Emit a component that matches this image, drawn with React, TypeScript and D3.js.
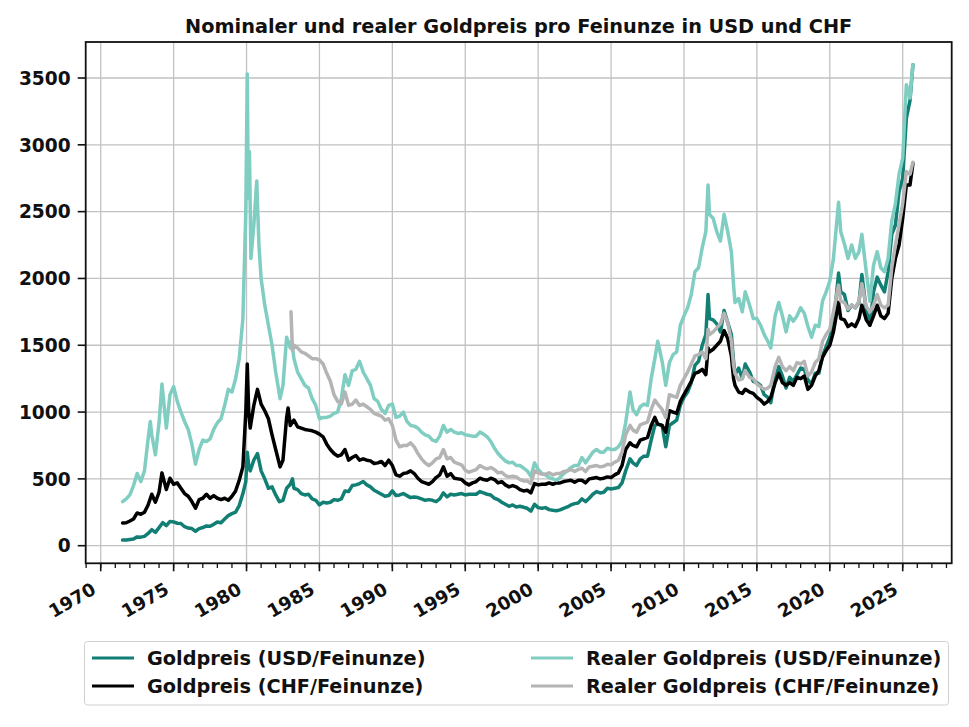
import React, { useEffect } from 'react';
import * as d3 from 'd3';

// [Jahr, Preis] – Quartalswerte, an Spitzen verdichtet
const goldUsd: [number, number][] = [
  [1971.5, 42], [1971.75, 43], [1972.0, 47], [1972.25, 50], [1972.5, 66], [1972.75, 64],
  [1973.0, 70], [1973.25, 92], [1973.5, 120], [1973.75, 100], [1974.0, 135], [1974.25, 172],
  [1974.5, 150], [1974.75, 182], [1975.0, 178], [1975.25, 168], [1975.5, 166], [1975.75, 142],
  [1976.0, 132], [1976.25, 128], [1976.5, 108], [1976.75, 128], [1977.0, 136], [1977.25, 148],
  [1977.5, 146], [1977.75, 160], [1978.0, 178], [1978.25, 172], [1978.5, 200], [1978.75, 225],
  [1979.0, 240], [1979.25, 252], [1979.5, 300], [1979.75, 390], [1979.95, 480], [1980.05, 700],
  [1980.15, 600], [1980.25, 560], [1980.5, 640], [1980.75, 690], [1981.0, 560], [1981.25, 500],
  [1981.5, 430], [1981.75, 440], [1982.0, 380], [1982.25, 330], [1982.5, 340], [1982.75, 430],
  [1983.0, 460], [1983.15, 500], [1983.25, 430], [1983.5, 420], [1983.75, 390], [1984.0, 380],
  [1984.25, 385], [1984.5, 350], [1984.75, 340], [1985.0, 305], [1985.25, 325], [1985.5, 320],
  [1985.75, 325], [1986.0, 345], [1986.25, 340], [1986.5, 350], [1986.75, 410], [1987.0, 405],
  [1987.25, 450], [1987.5, 455], [1987.75, 465], [1988.0, 480], [1988.25, 455], [1988.5, 440],
  [1988.75, 415], [1989.0, 400], [1989.25, 385], [1989.5, 370], [1989.75, 375], [1990.0, 410],
  [1990.25, 375], [1990.5, 380], [1990.75, 390], [1991.0, 375], [1991.25, 360], [1991.5, 365],
  [1991.75, 360], [1992.0, 350], [1992.25, 340], [1992.5, 345], [1992.75, 340], [1993.0, 330],
  [1993.25, 350], [1993.5, 395], [1993.75, 365], [1994.0, 385], [1994.25, 380], [1994.5, 385],
  [1994.75, 390], [1995.0, 380], [1995.25, 385], [1995.5, 385], [1995.75, 385], [1996.0, 405],
  [1996.25, 395], [1996.5, 385], [1996.75, 380], [1997.0, 355], [1997.25, 345], [1997.5, 325],
  [1997.75, 310], [1998.0, 295], [1998.25, 305], [1998.5, 290], [1998.75, 295], [1999.0, 288],
  [1999.25, 280], [1999.5, 258], [1999.75, 310], [2000.0, 285], [2000.25, 280], [2000.5, 285],
  [2000.75, 270], [2001.0, 265], [2001.25, 262], [2001.5, 268], [2001.75, 280], [2002.0, 290],
  [2002.25, 305], [2002.5, 315], [2002.75, 320], [2003.0, 350], [2003.25, 330], [2003.5, 355],
  [2003.75, 385], [2004.0, 405], [2004.25, 395], [2004.5, 400], [2004.75, 430], [2005.0, 425],
  [2005.25, 430], [2005.5, 435], [2005.75, 470], [2006.0, 560], [2006.3, 650], [2006.5, 620],
  [2006.75, 600], [2007.0, 650], [2007.25, 670], [2007.5, 670], [2007.75, 790], [2008.0, 900],
  [2008.2, 910], [2008.5, 900], [2008.75, 740], [2009.0, 900], [2009.25, 920], [2009.5, 940],
  [2009.75, 1050], [2010.0, 1110], [2010.25, 1150], [2010.5, 1220], [2010.75, 1350], [2011.0, 1380],
  [2011.25, 1500], [2011.5, 1580], [2011.65, 1880], [2011.75, 1700], [2012.0, 1690], [2012.25, 1660],
  [2012.5, 1600], [2012.75, 1760], [2013.0, 1670], [2013.25, 1580], [2013.4, 1380], [2013.5, 1280],
  [2013.75, 1330], [2014.0, 1250], [2014.2, 1360], [2014.5, 1300], [2014.75, 1230], [2015.0, 1220],
  [2015.25, 1200], [2015.5, 1130], [2015.75, 1110], [2015.95, 1070], [2016.25, 1250], [2016.5, 1340],
  [2016.75, 1270], [2017.0, 1180], [2017.25, 1260], [2017.5, 1230], [2017.75, 1280], [2018.0, 1330],
  [2018.25, 1320], [2018.5, 1240], [2018.75, 1210], [2019.0, 1290], [2019.25, 1290], [2019.5, 1420],
  [2019.75, 1490], [2020.0, 1560], [2020.25, 1650], [2020.6, 2040], [2020.75, 1900], [2021.0, 1880],
  [2021.25, 1760], [2021.5, 1800], [2021.75, 1780], [2022.0, 1820], [2022.2, 2030], [2022.5, 1760],
  [2022.75, 1650], [2023.0, 1900], [2023.25, 2010], [2023.5, 1950], [2023.75, 1900], [2024.0, 2050],
  [2024.25, 2330], [2024.5, 2400], [2024.75, 2650], [2025.0, 2750], [2025.25, 3200], [2025.5, 3330],
  [2025.7, 3600],
];

const goldChf: [number, number][] = [
  [1971.5, 170], [1971.75, 172], [1972.0, 185], [1972.25, 200], [1972.5, 245], [1972.75, 235],
  [1973.0, 250], [1973.25, 305], [1973.5, 385], [1973.75, 325], [1974.0, 400], [1974.2, 545],
  [1974.5, 420], [1974.75, 505], [1975.0, 460], [1975.25, 470], [1975.5, 430], [1975.75, 390],
  [1976.0, 370], [1976.25, 330], [1976.5, 280], [1976.75, 345], [1977.0, 355], [1977.25, 385],
  [1977.5, 355], [1977.75, 375], [1978.0, 355], [1978.25, 345], [1978.5, 355], [1978.75, 340],
  [1979.0, 370], [1979.25, 410], [1979.5, 490], [1979.75, 590], [1979.95, 1000], [1980.05, 1360],
  [1980.15, 1000], [1980.25, 880], [1980.5, 1050], [1980.75, 1170], [1981.0, 1060], [1981.25, 1010],
  [1981.5, 950], [1981.75, 830], [1982.0, 720], [1982.3, 590], [1982.5, 640], [1982.75, 960],
  [1982.85, 1030], [1983.0, 900], [1983.25, 940], [1983.5, 890], [1983.75, 880], [1984.0, 870],
  [1984.25, 865], [1984.5, 860], [1984.75, 850], [1985.0, 835], [1985.25, 815], [1985.5, 760],
  [1985.75, 720], [1986.0, 690], [1986.25, 670], [1986.5, 680], [1986.75, 720], [1987.0, 640],
  [1987.25, 660], [1987.5, 675], [1987.75, 640], [1988.0, 650], [1988.25, 640], [1988.5, 635],
  [1988.75, 615], [1989.0, 620], [1989.25, 630], [1989.5, 600], [1989.75, 640], [1990.0, 600],
  [1990.25, 530], [1990.5, 520], [1990.75, 540], [1991.0, 545], [1991.25, 560], [1991.5, 540],
  [1991.75, 505], [1992.0, 480], [1992.25, 470], [1992.5, 460], [1992.75, 480], [1993.0, 510],
  [1993.25, 530], [1993.5, 590], [1993.75, 520], [1994.0, 540], [1994.25, 505], [1994.5, 500],
  [1994.75, 495], [1995.0, 470], [1995.25, 455], [1995.5, 470], [1995.75, 480], [1996.0, 505],
  [1996.25, 495], [1996.5, 490], [1996.75, 505], [1997.0, 495], [1997.25, 470], [1997.5, 480],
  [1997.75, 455], [1998.0, 440], [1998.25, 450], [1998.5, 440], [1998.75, 420], [1999.0, 410],
  [1999.25, 415], [1999.5, 395], [1999.75, 465], [2000.0, 455], [2000.25, 460], [2000.5, 460],
  [2000.75, 470], [2001.0, 460], [2001.25, 470], [2001.5, 470], [2001.75, 480], [2002.0, 485],
  [2002.25, 490], [2002.5, 475], [2002.75, 490], [2003.0, 490], [2003.25, 470], [2003.5, 500],
  [2003.75, 505], [2004.0, 510], [2004.25, 500], [2004.5, 505], [2004.75, 515], [2005.0, 510],
  [2005.25, 530], [2005.5, 545], [2005.75, 600], [2006.0, 720], [2006.3, 770], [2006.5, 750],
  [2006.75, 740], [2007.0, 790], [2007.25, 800], [2007.5, 810], [2007.75, 900], [2008.0, 960],
  [2008.2, 910], [2008.5, 900], [2008.75, 850], [2009.0, 1010], [2009.25, 1000], [2009.5, 990],
  [2009.75, 1080], [2010.0, 1130], [2010.25, 1180], [2010.5, 1230], [2010.75, 1290], [2011.0, 1300],
  [2011.25, 1320], [2011.5, 1280], [2011.65, 1480], [2011.75, 1450], [2012.0, 1470], [2012.25, 1500],
  [2012.5, 1530], [2012.75, 1610], [2013.0, 1550], [2013.25, 1420], [2013.4, 1250], [2013.5, 1200],
  [2013.75, 1150], [2014.0, 1140], [2014.2, 1170], [2014.5, 1150], [2014.75, 1140], [2015.0, 1110],
  [2015.25, 1090], [2015.5, 1060], [2015.75, 1080], [2015.95, 1110], [2016.25, 1220], [2016.5, 1290],
  [2016.75, 1220], [2017.0, 1200], [2017.25, 1220], [2017.5, 1200], [2017.75, 1260], [2018.0, 1250],
  [2018.25, 1270], [2018.5, 1170], [2018.75, 1200], [2019.0, 1270], [2019.25, 1310], [2019.5, 1410],
  [2019.75, 1460], [2020.0, 1500], [2020.25, 1600], [2020.6, 1820], [2020.75, 1700], [2021.0, 1690],
  [2021.25, 1640], [2021.5, 1660], [2021.75, 1640], [2022.0, 1700], [2022.2, 1800], [2022.5, 1690],
  [2022.75, 1650], [2023.0, 1720], [2023.25, 1800], [2023.5, 1720], [2023.75, 1700], [2024.0, 1740],
  [2024.25, 2000], [2024.5, 2150], [2024.75, 2250], [2025.0, 2450], [2025.25, 2700], [2025.5, 2700],
  [2025.7, 2860],
];

const realUsd: [number, number][] = [
  [1971.5, 330], [1971.75, 350], [1972.0, 380], [1972.25, 450], [1972.5, 540], [1972.75, 480],
  [1973.0, 560], [1973.25, 800], [1973.4, 930], [1973.5, 830], [1973.75, 680], [1974.0, 920],
  [1974.2, 1210], [1974.5, 880], [1974.75, 1130], [1975.0, 1190], [1975.25, 1080], [1975.5, 1000],
  [1975.75, 930], [1976.0, 870], [1976.25, 760], [1976.5, 610], [1976.75, 720], [1977.0, 790],
  [1977.25, 780], [1977.5, 800], [1977.75, 870], [1978.0, 920], [1978.25, 950], [1978.5, 1050],
  [1978.75, 1170], [1979.0, 1150], [1979.25, 1250], [1979.5, 1400], [1979.75, 1700], [1979.95, 2500],
  [1980.05, 3530], [1980.12, 2600], [1980.2, 2950], [1980.3, 2150], [1980.5, 2400], [1980.7, 2730],
  [1980.85, 2250], [1981.0, 2000], [1981.25, 1800], [1981.5, 1650], [1981.75, 1500], [1982.0, 1300],
  [1982.3, 1100], [1982.5, 1200], [1982.75, 1560], [1983.0, 1480], [1983.1, 1530], [1983.25, 1400],
  [1983.5, 1300], [1983.75, 1250], [1984.0, 1200], [1984.25, 1180], [1984.5, 1100], [1984.75, 1050],
  [1985.0, 950], [1985.25, 960], [1985.5, 960], [1985.75, 970], [1986.0, 990], [1986.25, 1000],
  [1986.5, 1100], [1986.75, 1280], [1987.0, 1200], [1987.25, 1310], [1987.5, 1320], [1987.75, 1380],
  [1988.0, 1300], [1988.25, 1250], [1988.5, 1200], [1988.75, 1100], [1989.0, 1080], [1989.25, 1020],
  [1989.5, 990], [1989.75, 1050], [1990.0, 1060], [1990.25, 960], [1990.5, 970], [1990.75, 1000],
  [1991.0, 930], [1991.25, 900], [1991.5, 895], [1991.75, 880], [1992.0, 850], [1992.25, 830],
  [1992.5, 820], [1992.75, 790], [1993.0, 780], [1993.25, 820], [1993.5, 900], [1993.75, 850],
  [1994.0, 870], [1994.25, 850], [1994.5, 840], [1994.75, 845], [1995.0, 830], [1995.25, 825],
  [1995.5, 820], [1995.75, 820], [1996.0, 850], [1996.25, 835], [1996.5, 815], [1996.75, 780],
  [1997.0, 730], [1997.25, 690], [1997.5, 660], [1997.75, 635], [1998.0, 620], [1998.25, 625],
  [1998.5, 600], [1998.75, 600], [1999.0, 580], [1999.25, 560], [1999.5, 520], [1999.75, 620],
  [2000.0, 570], [2000.25, 540], [2000.5, 530], [2000.75, 510], [2001.0, 500], [2001.25, 490],
  [2001.5, 510], [2001.75, 540], [2002.0, 560], [2002.25, 585], [2002.5, 600], [2002.75, 600],
  [2003.0, 660], [2003.25, 620], [2003.5, 660], [2003.75, 700], [2004.0, 720], [2004.25, 700],
  [2004.5, 700], [2004.75, 730], [2005.0, 720], [2005.25, 720], [2005.5, 740], [2005.75, 780],
  [2006.0, 920], [2006.3, 1150], [2006.5, 1020], [2006.75, 980], [2007.0, 1040], [2007.25, 1060],
  [2007.5, 1050], [2007.75, 1250], [2008.0, 1400], [2008.2, 1530], [2008.5, 1380], [2008.75, 1200],
  [2009.0, 1370], [2009.25, 1430], [2009.5, 1450], [2009.75, 1650], [2010.0, 1720], [2010.25, 1780],
  [2010.5, 1880], [2010.75, 2050], [2011.0, 2080], [2011.25, 2230], [2011.5, 2350], [2011.65, 2700],
  [2011.75, 2480], [2012.0, 2450], [2012.25, 2350], [2012.5, 2280], [2012.75, 2480], [2013.0, 2350],
  [2013.25, 2200], [2013.4, 1950], [2013.5, 1820], [2013.75, 1850], [2014.0, 1750], [2014.2, 1900],
  [2014.5, 1800], [2014.75, 1700], [2015.0, 1700], [2015.25, 1650], [2015.5, 1580], [2015.75, 1530],
  [2015.95, 1480], [2016.25, 1720], [2016.5, 1820], [2016.75, 1720], [2017.0, 1600], [2017.25, 1720],
  [2017.5, 1680], [2017.75, 1720], [2018.0, 1780], [2018.25, 1740], [2018.5, 1640], [2018.75, 1560],
  [2019.0, 1650], [2019.25, 1640], [2019.5, 1830], [2019.75, 1900], [2020.0, 1980], [2020.25, 2150],
  [2020.6, 2570], [2020.75, 2350], [2021.0, 2260], [2021.25, 2150], [2021.5, 2250], [2021.75, 2150],
  [2022.0, 2200], [2022.2, 2330], [2022.5, 2050], [2022.75, 1830], [2023.0, 2100], [2023.25, 2200],
  [2023.5, 2080], [2023.75, 2050], [2024.0, 2150], [2024.25, 2430], [2024.5, 2560], [2024.75, 2780],
  [2025.0, 2900], [2025.25, 3450], [2025.5, 3350], [2025.7, 3600],
];

// CHF-Reihe (real) beginnt erst 1983
const realChf: [number, number][] = [
  [1983.05, 1750], [1983.15, 1460], [1983.25, 1500], [1983.5, 1480], [1983.75, 1450], [1984.0, 1440],
  [1984.25, 1420], [1984.5, 1400], [1984.75, 1400], [1985.0, 1390], [1985.25, 1360], [1985.5, 1290],
  [1985.75, 1230], [1986.0, 1130], [1986.25, 1080], [1986.5, 1060], [1986.75, 1150], [1987.0, 1050],
  [1987.25, 1060], [1987.5, 1090], [1987.75, 1050], [1988.0, 1060], [1988.25, 1040], [1988.5, 1020],
  [1988.75, 990], [1989.0, 980], [1989.25, 970], [1989.5, 940], [1989.75, 950], [1990.0, 900],
  [1990.25, 790], [1990.5, 740], [1990.75, 750], [1991.0, 750], [1991.25, 770], [1991.5, 740],
  [1991.75, 690], [1992.0, 650], [1992.25, 620], [1992.5, 600], [1992.75, 620], [1993.0, 650],
  [1993.25, 660], [1993.5, 720], [1993.75, 650], [1994.0, 660], [1994.25, 625], [1994.5, 615],
  [1994.75, 605], [1995.0, 565], [1995.25, 550], [1995.5, 560], [1995.75, 570], [1996.0, 600],
  [1996.25, 585], [1996.5, 575], [1996.75, 585], [1997.0, 570], [1997.25, 545], [1997.5, 550],
  [1997.75, 525], [1998.0, 515], [1998.25, 520], [1998.5, 515], [1998.75, 495], [1999.0, 485],
  [1999.25, 485], [1999.5, 465], [1999.75, 560], [2000.0, 545], [2000.25, 535], [2000.5, 535],
  [2000.75, 545], [2001.0, 530], [2001.25, 540], [2001.5, 540], [2001.75, 555], [2002.0, 560],
  [2002.25, 570], [2002.5, 555], [2002.75, 570], [2003.0, 580], [2003.25, 555], [2003.5, 590],
  [2003.75, 595], [2004.0, 600], [2004.25, 590], [2004.5, 595], [2004.75, 610], [2005.0, 605],
  [2005.25, 625], [2005.5, 640], [2005.75, 700], [2006.0, 830], [2006.3, 900], [2006.5, 865],
  [2006.75, 850], [2007.0, 905], [2007.25, 915], [2007.5, 925], [2007.75, 1020], [2008.0, 1090],
  [2008.2, 1060], [2008.5, 1020], [2008.75, 960], [2009.0, 1130], [2009.25, 1120], [2009.5, 1110],
  [2009.75, 1200], [2010.0, 1250], [2010.25, 1300], [2010.5, 1360], [2010.75, 1420], [2011.0, 1430],
  [2011.25, 1450], [2011.5, 1400], [2011.65, 1620], [2011.75, 1580], [2012.0, 1600], [2012.25, 1630],
  [2012.5, 1660], [2012.75, 1740], [2013.0, 1670], [2013.25, 1530], [2013.4, 1350], [2013.5, 1290],
  [2013.75, 1240], [2014.0, 1250], [2014.2, 1310], [2014.5, 1260], [2014.75, 1250], [2015.0, 1210],
  [2015.25, 1190], [2015.5, 1170], [2015.75, 1180], [2015.95, 1200], [2016.25, 1340], [2016.5, 1410],
  [2016.75, 1340], [2017.0, 1310], [2017.25, 1340], [2017.5, 1310], [2017.75, 1370], [2018.0, 1360],
  [2018.25, 1380], [2018.5, 1270], [2018.75, 1300], [2019.0, 1370], [2019.25, 1400], [2019.5, 1530],
  [2019.75, 1580], [2020.0, 1620], [2020.25, 1750], [2020.6, 1950], [2020.75, 1830], [2021.0, 1820],
  [2021.25, 1770], [2021.5, 1800], [2021.75, 1780], [2022.0, 1830], [2022.2, 1960], [2022.5, 1790],
  [2022.75, 1750], [2023.0, 1800], [2023.25, 1880], [2023.5, 1800], [2023.75, 1780], [2024.0, 1800],
  [2024.25, 2080], [2024.5, 2250], [2024.75, 2400], [2025.0, 2560], [2025.25, 2800], [2025.5, 2780],
  [2025.7, 2870],
];

const yTicks = [0, 500, 1000, 1500, 2000, 2500, 3000, 3500];
const xTicks = [1970, 1975, 1980, 1985, 1990, 1995, 2000, 2005, 2010, 2015, 2020, 2025];
const xMinor = d3.range(1969, 2029);

const title = 'Nominaler und realer Goldpreis pro Feinunze in USD und CHF';

const series = [
  { name: 'Goldpreis (USD/Feinunze)', data: goldUsd, color: '#127f75' },
  { name: 'Goldpreis (CHF/Feinunze)', data: goldChf, color: '#000000' },
  { name: 'Realer Goldpreis (USD/Feinunze)', data: realUsd, color: '#80cdc2' },
  { name: 'Realer Goldpreis (CHF/Feinunze)', data: realChf, color: '#b4b4b4' },
];

const W = 969;
const H = 727;
const m = { left: 85.7, right: 951.7, top: 42, bottom: 563.3 };
const font = '"DejaVu Sans", sans-serif';

export default function App() {
  useEffect(() => {
    document.body.style.margin = '0';
  }, []);

  const x = d3.scaleLinear().domain([1968.97, 2028.36]).range([m.left, m.right]);
  const y = d3.scaleLinear().domain([-131.7, 3769.5]).range([m.bottom, m.top]);
  const line = d3
    .line<[number, number]>()
    .x((d) => x(d[0]))
    .y((d) => y(d[1]));

  return (
    <svg width={W} height={H} style={{ display: 'block', background: '#fff' }} fontFamily={font} fontWeight="bold">
      <defs>
        <clipPath id="plot">
          <rect x={m.left} y={m.top} width={m.right - m.left} height={m.bottom - m.top} />
        </clipPath>
      </defs>

      {/* grid */}
      <g stroke="#c2c2c2" strokeWidth={1.3}>
        {xTicks.map((t) => (
          <line key={'gx' + t} x1={x(t)} x2={x(t)} y1={m.top} y2={m.bottom} />
        ))}
        {yTicks.map((t) => (
          <line key={'gy' + t} x1={m.left} x2={m.right} y1={y(t)} y2={y(t)} />
        ))}
      </g>

      {/* Kurven */}
      <g clipPath="url(#plot)" fill="none" strokeWidth={3.5} strokeLinejoin="round" strokeLinecap="round">
        {series.map((s) => (
          <path key={s.name} d={line(s.data) ?? ''} stroke={s.color} />
        ))}
      </g>

      {/* Rahmen */}
      <rect x={m.left} y={m.top} width={m.right - m.left} height={m.bottom - m.top} fill="none" stroke="#111" strokeWidth={1.8} />

      {/* y-Achse */}
      <g fontSize={18.6} fill="#111">
        {yTicks.map((t) => (
          <g key={'y' + t}>
            <line x1={m.left - 8} x2={m.left} y1={y(t)} y2={y(t)} stroke="#111" strokeWidth={1.6} />
            <text x={m.left - 15} y={y(t)} dy="0.36em" textAnchor="end">
              {t}
            </text>
          </g>
        ))}
      </g>

      {/* x-Achse */}
      <g fontSize={18.2} fill="#111">
        {xMinor.map((t) => (
          <line key={'mx' + t} x1={x(t)} x2={x(t)} y1={m.bottom} y2={m.bottom + 4.7} stroke="#111" strokeWidth={1.3} />
        ))}
        {xTicks.map((t) => (
          <g key={'x' + t}>
            <line x1={x(t)} x2={x(t)} y1={m.bottom} y2={m.bottom + 8} stroke="#111" strokeWidth={1.6} />
            <text transform={`translate(${x(t) - 3.5},${593}) rotate(-30)`} textAnchor="end">
              {t}
            </text>
          </g>
        ))}
      </g>

      {/* Titel */}
      <text x={(m.left + m.right) / 2} y={32.5} textAnchor="middle" fontSize={19.3} fill="#111">
        {title}
      </text>

      {/* Legende */}
      <g fontSize={19.3} fill="#111">
        <rect x={84.5} y={641.5} width={864} height={63.5} rx={3} fill="#fff" fillOpacity={0.8} stroke="#d0d0d0" strokeWidth={1} />
        {series.map((s, i) => {
          const col = Math.floor(i / 2);
          const row = i % 2;
          const lx = col === 0 ? 92 : 531;
          const ly = 658 + row * 28;
          return (
            <g key={'l' + s.name}>
              <line x1={lx} x2={lx + 42} y1={ly} y2={ly} stroke={s.color} strokeWidth={3.2} />
              <text x={lx + 55} y={ly} dy="0.36em">
                {s.name}
              </text>
            </g>
          );
        })}
      </g>
    </svg>
  );
}
